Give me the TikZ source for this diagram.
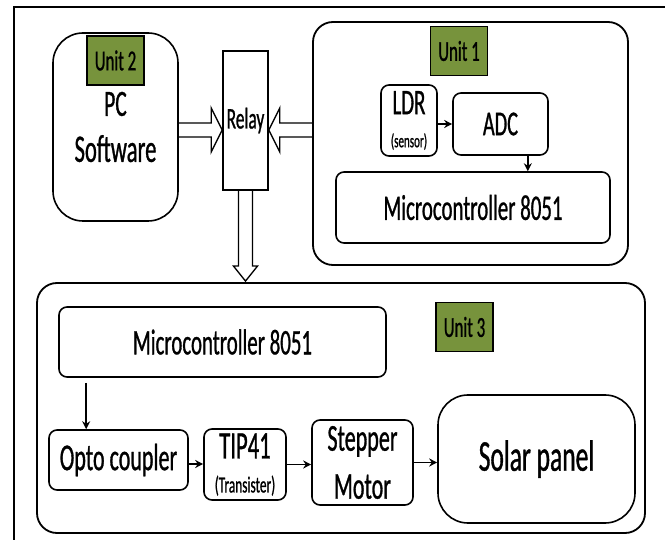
\documentclass[tikz,border=0pt]{standalone}
\usepackage{fontspec}
\setmainfont{Carlito}[FakeStretch=0.58,FakeBold=0.8]
\usetikzlibrary{arrows.meta,calc}

\definecolor{unitgreen}{RGB}{119,147,60}

\begin{document}
\begin{tikzpicture}[x=1pt,y=-1pt,
  block/.style={draw,line width=1.6pt,rounded corners=8pt,inner sep=0pt,align=center},
  unitbox/.style={draw,line width=1.8pt,rounded corners=20pt,inner sep=0pt},
  unittag/.style={draw,line width=1.4pt,fill=unitgreen,minimum width=57pt,minimum height=49pt,inner sep=0pt,font=\fontsize{29}{32}\selectfont},
  hollow/.style={line width=1.3pt,line join=miter},
  link/.style={line width=1.6pt,-{Stealth[length=8pt,width=8pt]}}]

\useasboundingbox (0,0) rectangle (665,540);

% frame
\draw[line width=2.5pt] (14,540)--(14,7)--(665,7);

% unit boxes
\node[unitbox,minimum width=315pt,minimum height=243pt] (u1) at (470.5,143.5) {};
\node[unitbox,minimum width=608pt,minimum height=250pt] (u3) at (341,408) {};

% unit 2 and relay
\node[block,rounded corners=30pt,minimum width=125pt,minimum height=188pt,font=\fontsize{39}{46}\selectfont] (pc) at (115.5,127) {{\fontsize{37}{46}\selectfont PC}\\Software};
\node[unittag] (tag2) at (115.5,60.5) {Unit 2};
\node[block,rounded corners=0pt,minimum width=45pt,minimum height=139pt,font=\fontsize{30}{32}\selectfont] (relay) at (245.5,120.5) {Relay};

% unit 1
\node[unittag] (tag1) at (459,51) {Unit 1};
\node[block,minimum width=56pt,minimum height=71pt,font=\fontsize{36}{33}\selectfont] (ldr) at (409,120.5) {LDR\\{\fontsize{19}{33}\selectfont (sensor)}};
\node[block,minimum width=95pt,minimum height=62pt,font=\fontsize{35}{38}\selectfont] (adc) at (500.5,124) {ADC};
\node[block,minimum width=274pt,minimum height=71pt,font=\fontsize{36}{40}\selectfont] (mcu1) at (473,207.5) {Microcontroller 8051};

% unit 3
\node[unittag] (tag3) at (464.5,327) {Unit 3};
\node[block,minimum width=327pt,minimum height=70pt,font=\fontsize{36}{40}\selectfont] (mcu3) at (222.5,342) {Microcontroller 8051};
\node[block,minimum width=139pt,minimum height=60pt,font=\fontsize{38}{42}\selectfont] (opto) at (118.5,460) {Opto coupler};
\node[block,minimum width=82pt,minimum height=71pt,font=\fontsize{39}{34}\selectfont] (tip) at (245,464.5) {TIP41\\{\fontsize{23}{34}\selectfont (Transister)}};
\node[block,minimum width=101pt,minimum height=85pt,font=\fontsize{38}{48}\selectfont] (motor) at (362.5,462.5) {Stepper\\Motor};
\node[block,rounded corners=30pt,minimum width=197pt,minimum height=128pt,font=\fontsize{44}{48}\selectfont] (solar) at (536.5,459) {Solar panel};

% hollow arrows into and out of the relay
\coordinate (inL) at ($(relay.west)+(0,9.5)$);
\coordinate (inR) at ($(relay.east)+(0,9.5)$);
\coordinate (inD) at (relay.south |- u3.north);
\draw[hollow] ($(pc.east |- inL)+(0,-7)$)--($(inL)+(-11,-7)$)--($(inL)+(-11,-22)$)--(inL)--($(inL)+(-11,22)$)--($(inL)+(-11,7)$)--($(pc.east |- inL)+(0,7)$);
\draw[hollow] ($(u1.west |- inR)+(0,-7)$)--($(inR)+(11,-7)$)--($(inR)+(11,-22)$)--(inR)--($(inR)+(11,22)$)--($(inR)+(11,7)$)--($(u1.west |- inR)+(0,7)$);
\draw[hollow] ($(relay.south)+(-7,0)$)--($(inD)+(-7,-16)$)--($(inD)+(-12,-16)$)--($(inD)+(0,-1)$)--($(inD)+(12,-16)$)--($(inD)+(7,-16)$)--($(relay.south)+(7,0)$);

% signal arrows
\coordinate (adcout) at ($(adc.south east)+(-21,0)$);
\coordinate (mcuout) at ($(mcu3.south west)+(28,5)$);
\draw[link] (ldr.east |- adc)--(adc.west);
\draw[link] (adcout)--(adcout |- mcu1.north);
\draw[link] (mcuout)--(mcuout |- opto.north);
\draw[link] ($(opto.east)+(0,4)$)--($(opto.east -| tip.west)+(0,4)$);
\draw[link] (tip.east)--(tip.east -| motor.west);
\draw[link] (motor.east)--(motor.east -| solar.west);

\end{tikzpicture}
\end{document}
